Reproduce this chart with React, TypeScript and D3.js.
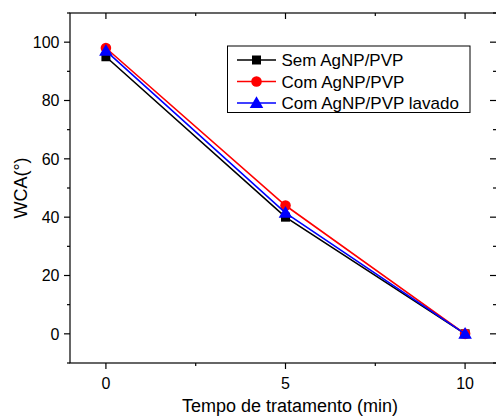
import React from 'react';
import * as d3 from 'd3';

const times = [0, 5, 10];
const semValues = [95, 40, 0];
const comValues = [98, 44, 0];
const lavadoValues = [97, 41.5, 0];
const xTicks = [0, 5, 10];
const yTicks = [0, 20, 40, 60, 80, 100];
const legendLabels = ['Sem AgNP/PVP', 'Com AgNP/PVP', 'Com AgNP/PVP lavado'];

const W = 496;
const H = 418;
const left = 70;
const top = 13;
const right = 501;
const bottom = 363;
const font = 'Liberation Sans, Arial, sans-serif';

const series = [
  { name: legendLabels[0], values: semValues, color: '#000000', shape: 'square' },
  { name: legendLabels[1], values: comValues, color: '#ff0000', shape: 'circle' },
  { name: legendLabels[2], values: lavadoValues, color: '#0000ff', shape: 'triangle' },
];

const Marker = ({ shape, x, y, color }: { shape: string; x: number; y: number; color: string }) => {
  if (shape === 'square') return <rect x={x - 4.5} y={y - 4.5} width={9} height={9} fill={color} />;
  if (shape === 'circle') return <circle cx={x} cy={y} r={5.3} fill={color} />;
  const s = d3.symbol(d3.symbolTriangle, 80)();
  return <path d={s || ''} transform={`translate(${x},${y + 1})`} fill={color} />;
};

export default function App() {
  const x = d3.scaleLinear().domain([-1, 11]).range([left, right]);
  const y = d3.scaleLinear().domain([-10, 110]).range([bottom, top]);
  const line = d3.line<number>().x((_, i) => x(times[i])).y(d => y(d));
  const xMinor = [2.5, 7.5];
  const yMinor = [-10, 10, 30, 50, 70, 90, 110];

  return (
    <svg width={W} height={H} style={{ position: 'absolute', left: 0, top: 0 }}>
      <rect width={W} height={H} fill="#fff" />
      {/* frame */}
      <rect x={left} y={top} width={right - left} height={bottom - top} fill="none" stroke="#000" strokeWidth={1.2} />

      {/* bottom + top ticks */}
      {xTicks.map(t => (
        <g key={'xt' + t}>
          <line x1={x(t)} x2={x(t)} y1={bottom} y2={bottom + 6} stroke="#000" strokeWidth={1.2} />
          <line x1={x(t)} x2={x(t)} y1={top} y2={top + 6} stroke="#000" strokeWidth={1.2} />
          <text x={x(t)} y={389} textAnchor="middle" fontFamily={font} fontSize={16} fill="#000">{t}</text>
        </g>
      ))}
      {xMinor.map(t => (
        <g key={'xm' + t}>
          <line x1={x(t)} x2={x(t)} y1={bottom} y2={bottom + 3} stroke="#000" strokeWidth={1.2} />
          <line x1={x(t)} x2={x(t)} y1={top} y2={top + 3} stroke="#000" strokeWidth={1.2} />
        </g>
      ))}

      {/* left + right ticks */}
      {yTicks.map(t => (
        <g key={'yt' + t}>
          <line x1={left - 6} x2={left} y1={y(t)} y2={y(t)} stroke="#000" strokeWidth={1.2} />
          <line x1={W - 6} x2={W} y1={y(t)} y2={y(t)} stroke="#000" strokeWidth={1.2} />
          <text x={59.5} y={y(t) + 5.8} textAnchor="end" fontFamily={font} fontSize={16} fill="#000">{t}</text>
        </g>
      ))}
      {yMinor.map(t => (
        <g key={'ym' + t}>
          <line x1={left - 3} x2={left} y1={y(t)} y2={y(t)} stroke="#000" strokeWidth={1.2} />
          <line x1={W - 3} x2={W} y1={y(t)} y2={y(t)} stroke="#000" strokeWidth={1.2} />
        </g>
      ))}

      {/* axis titles */}
      <text x={290} y={412} textAnchor="middle" fontFamily={font} fontSize={18} fill="#000">Tempo de tratamento (min)</text>
      <text transform={`translate(26.5,188) rotate(-90)`} textAnchor="middle" fontFamily={font} fontSize={18} fill="#000">WCA(°)</text>

      {/* series */}
      {series.map(s => (
        <g key={s.name}>
          <path d={line(s.values) || ''} fill="none" stroke={s.color} strokeWidth={1.6} />
          {s.values.map((v, i) => (
            <Marker key={i} shape={s.shape} x={x(times[i])} y={y(v)} color={s.color} />
          ))}
        </g>
      ))}

      {/* legend */}
      <rect x={227.5} y={46} width={242.5} height={66.5} fill="#fff" stroke="#000" strokeWidth={1} />
      {series.map((s, i) => {
        const ly = 60 + i * 21.5;
        return (
          <g key={'lg' + s.name}>
            <line x1={237} x2={276} y1={ly} y2={ly} stroke={s.color} strokeWidth={1.6} />
            <Marker shape={s.shape} x={256.5} y={ly} color={s.color} />
            <text x={281.5} y={ly + 6.2} fontFamily={font} fontSize={17} fill="#000">{s.name}</text>
          </g>
        );
      })}
    </svg>
  );
}
